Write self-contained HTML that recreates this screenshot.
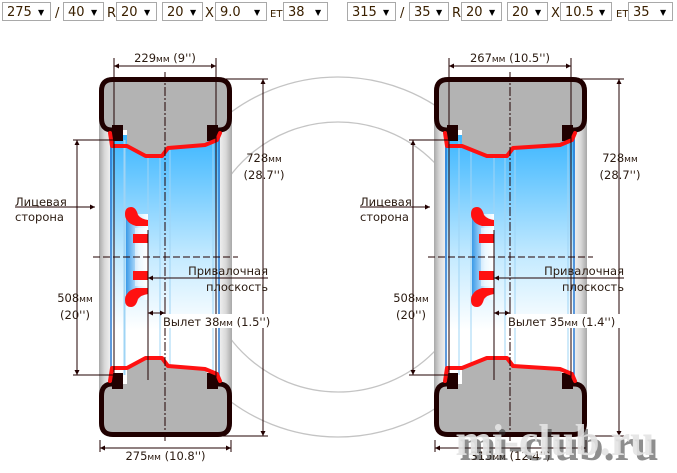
<!DOCTYPE html>
<html><head><meta charset="utf-8">
<style>
html,body{margin:0;padding:0;background:#fff;width:677px;height:473px;overflow:hidden}
svg{position:absolute;left:0;top:0}
text{font-family:"DejaVu Sans","Liberation Sans",sans-serif;fill:#2a1a10}
</style></head><body>
<svg id="s" width="677" height="473" viewBox="0 0 677 473" xmlns="http://www.w3.org/2000/svg">
<defs>
<linearGradient id="blue" x1="0" y1="0" x2="0" y2="1">
<stop offset="0" stop-color="#3cb6ff"/><stop offset="0.5" stop-color="#c4eaff"/><stop offset="0.8" stop-color="#fff"/><stop offset="1" stop-color="#fff"/>
</linearGradient>
<linearGradient id="sideL" x1="0" y1="0" x2="1" y2="0">
<stop offset="0" stop-color="#a8a8a8"/><stop offset="0.5" stop-color="#d8d8d8"/><stop offset="1" stop-color="#eee"/>
</linearGradient>
<linearGradient id="sideR" x1="0" y1="0" x2="1" y2="0">
<stop offset="0" stop-color="#eee"/><stop offset="0.5" stop-color="#d8d8d8"/><stop offset="1" stop-color="#a8a8a8"/>
</linearGradient>
<linearGradient id="hub" x1="0" y1="0" x2="1" y2="0">
<stop offset="0" stop-color="#3a9ae8"/><stop offset="0.6" stop-color="#d8f0ff"/><stop offset="1" stop-color="#fff"/>
</linearGradient>
</defs>
<g fill="none" stroke="#c4c4c4" stroke-width="1.3">
<circle cx="338" cy="257" r="180"/><circle cx="338" cy="257" r="135"/>
</g>
<g id="g"></g>
</svg>
<script>
var out='';
function sel(x,w,t){
 out+='<rect x="'+(x+0.5)+'" y="2.5" width="'+w+'" height="18" fill="#fff" stroke="#a9a9a9"/>';
 out+='<text x="'+(x+5)+'" y="16" font-size="13" style="fill:#3a2000">'+t+'</text>';
 out+='<text x="'+(x+w-12)+'" y="15" font-size="8" style="fill:#000">▼</text>';
}
function lab(x,t){out+='<text x="'+x+'" y="17" font-size="13" style="fill:#3a2000">'+t+'</text>';}
function T(x,y,t,anchor,sz){out+='<text x="'+x+'" y="'+y+'" font-size="'+(sz||11.5)+'" text-anchor="'+(anchor||'start')+'">'+t+'</text>';}
function mm(n,inch){return n+'<tspan font-size="9">мм</tspan> ('+inch+'\'\')';}
function L(x1,y1,x2,y2,c,w,d){out+='<line x1="'+x1+'" y1="'+y1+'" x2="'+x2+'" y2="'+y2+'" stroke="'+(c||'#200')+'" stroke-width="'+(w||1)+'"'+(d?' stroke-dasharray="'+d+'"':'')+'/>';}
function arrH(x1,x2,y){L(x1,y,x2,y);out+='<path d="M'+x1+' '+y+'l5 -2.5v5z M'+x2+' '+y+'l-5 -2.5v5z" fill="#200"/>';}
function arrV(x,y1,y2){L(x,y1,x,y2);out+='<path d="M'+x+' '+y1+'l-2.5 5h5z M'+x+' '+y2+'l-2.5 -5h5z" fill="#200"/>';}
function panel(p){
 var tL=p.tL,tR=p.tR,rL=p.rL,rR=p.rR,cx=p.cx,f=p.face,w=rR-rL;
 out+='<rect x="'+tL+'" y="110" width="'+(rL-4-tL)+'" height="294" fill="url(#sideL)"/>';
 out+='<rect x="'+(rR+4)+'" y="110" width="'+(tR-rR-4)+'" height="294" fill="url(#sideR)"/>';
 out+='<rect x="'+(rL-4)+'" y="135" width="'+(w+8)+'" height="244" fill="url(#blue)"/>';
 L(rL-3,135,rL-3,379,'#2a78d0',1.5);L(rR+3,135,rR+3,379,'#2a78d0',1.5);
 [rL+10,p.hubL,f,cx-5,cx+5,rR-3].forEach(function(x){L(x,140,x,375,'#9fd4f5',1);});
 // hub
 var h=p.hubL;
 out+='<rect x="'+(h+1)+'" y="214" width="'+(f-h-1)+'" height="86" fill="url(#hub)"/>';
 out+='<rect x="'+(h+10)+'" y="228" width="'+(f-h-10)+'" height="58" fill="#fff" opacity="0.5"/>';
 function hubHalf(top){
  var s=top?1:-1,c=257;
  function Y(d){return c-s*d;}
  out+='<path d="M'+h+' '+Y(43)+' Q'+h+' '+Y(50)+' '+(h+6)+' '+Y(50)+' Q'+(h+11)+' '+Y(50)+' '+(h+13)+' '+Y(42)+' Q'+(h+16)+' '+Y(38)+' '+(f)+' '+Y(37)+' V'+Y(31)+' H'+(h+11)+' Q'+(h+4)+' '+Y(33)+' '+(h+2)+' '+Y(37)+' Q'+h+' '+Y(39)+' '+h+' '+Y(43)+'z" fill="#f11"/>';
  out+='<rect x="'+(h+8)+'" y="'+Math.min(Y(23),Y(14))+'" width="'+(f-h-8)+'" height="9" fill="#f11"/>';
 }
 hubHalf(true);hubHalf(false);
 function tire(top){
  var s=top?1:-1,y0=top?77:437;
  function Y(d){return y0+s*d;}
  var d='M'+tL+' '+Y(53)+' V'+Y(14)+' Q'+tL+' '+y0+' '+(tL+14)+' '+y0+' H'+(tR-14)+' Q'+tR+' '+y0+' '+tR+' '+Y(14)+' V'+Y(41)+' Q'+tR+' '+Y(53)+' '+(tR-12)+' '+Y(53)+' H'+(rR-8)+' V'+Y(62)+' L'+(rR-11)+' '+Y(68)+' L'+(cx+3)+' '+Y(71)+' L'+(cx-3)+' '+Y(79)+' L'+(rL+0.31*w)+' '+Y(79)+' L'+(rL+13)+' '+Y(69)+' V'+Y(53)+' H'+(tL+12)+' Q'+tL+' '+Y(53)+' '+tL+' '+Y(41)+'z';
  out+='<path d="'+d+'" fill="#b3b3b3"/>';
  out+='<path d="M'+(rL-1)+' '+Y(53)+' H'+(tL+13)+' Q'+(tL+2.5)+' '+Y(53)+' '+(tL+2.5)+' '+Y(41)+' V'+Y(14)+' Q'+(tL+2.5)+' '+Y(2.5)+' '+(tL+14)+' '+Y(2.5)+' H'+(tR-14)+' Q'+(tR-2.5)+' '+Y(2.5)+' '+(tR-2.5)+' '+Y(14)+' V'+Y(41)+' Q'+(tR-2.5)+' '+Y(53)+' '+(tR-13)+' '+Y(53)+' H'+(rR-8)+'" fill="none" stroke="#200000" stroke-width="5"/>';
  out+='<rect x="'+(rL-2)+'" y="'+Math.min(Y(48),Y(64))+'" width="11" height="16" fill="#200000"/>';
  out+='<rect x="'+(rR-9)+'" y="'+Math.min(Y(48),Y(64))+'" width="11" height="16" fill="#200000"/>';
  var pts=[[rL-4,56],[rL-2,69],[rL+13,69],[rL+0.31*w,79],[cx-3,79],[cx+3,71],[rR-11,68],[rR+1,63],[rR+4,56]];
  out+='<polyline points="'+pts.map(function(q){return q[0]+','+Y(q[1]);}).join(' ')+'" fill="none" stroke="#f11" stroke-width="4" stroke-linejoin="round" stroke-linecap="round"/>';
 }
 tire(true);tire(false);
 L(cx,72,cx,442,'#200',1,'9 2 2 2');
 L(tL-6,257,tR+6,257,'#200',1,'7 3');
 L(rL,58,rL,380,'#200',1);L(rR,58,rR,380,'#200',1);
 arrH(rL,rR,66);T(cx,62,mm(p.rw,p.rwi),'middle');
 L(tL+1,440,tL+1,452);L(tR-1,440,tR-1,452);arrH(tL+1,tR-1,448);T((tL+tR)/2,460,mm(p.tw,p.twi),'middle');
 L(tR-12,79,p.hx+5,79);L(tR-12,436,p.hx+5,436);arrV(p.hx,79,436);
 T(p.hx+1,162,'728<tspan font-size="9">мм</tspan>','middle');T(p.hx+1,179,'(28.7\'\')','middle');
 L(p.dx-4,140,rL+6,140);L(p.dx-4,375,rL+6,375);arrV(p.dx,140,375);
 T(p.dx-2,302,'508<tspan font-size="9">мм</tspan>','middle');T(p.dx-2,319,'(20\'\')','middle');
 T(p.lx,206,'Лицевая','start');T(p.lx,221,'сторона','start');
 L(p.lx,207,tL-4,207);out+='<path d="M'+(tL-4)+' 207 l-5 -2.5v5z" fill="#200"/>';
 L(f,230,f,380,'#200',1);
 L(f,278,p.hx+5,278);out+='<path d="M'+f+' 278 l5 -2.5v5z" fill="#200"/>';
 T(p.hx+5,275,'Привалочная','end');T(p.hx+5,291,'плоскость','end');
 L(cx,300,cx,330);arrH(f,cx,313);
 out+='<rect x="'+(cx-3)+'" y="314" width="'+(p.hx-cx+12)+'" height="14" fill="#fff"/>';
 T(cx-2,326,'Вылет '+p.et+'<tspan font-size="9">мм</tspan> ('+p.eti+'\'\')','start');
}
sel(2,48,'275');lab(55,'/');sel(63,40,'40');lab(107,'R');sel(116,40,'20');sel(162,40,'20');lab(205,'X');sel(215,51,'9.0');lab(270,'<tspan font-size="10">ET</tspan>');sel(283,44,'38');
sel(347,48,'315');lab(400,'/');sel(409,39,'35');lab(452,'R');sel(461,40,'20');sel(507,40,'20');lab(551,'X');sel(560,51,'10.5');lab(616,'<tspan font-size="10">ET</tspan>');sel(628,44,'35');
panel({tL:99,tR:232,rL:114,rR:216,cx:165,face:148,hubL:125,rw:229,rwi:'9',tw:275,twi:'10.8',hx:263,dx:77,lx:15,et:38,eti:'1.5'});
panel({tL:434,tR:587,rL:449,rR:571,cx:510,face:494,hubL:471,rw:267,rwi:'10.5',tw:315,twi:'12.4',hx:619,dx:413,lx:360,et:35,eti:'1.4'});
out+='<text x="559" y="460" text-anchor="middle" font-size="44" font-weight="bold" style="font-family:\'Liberation Serif\',serif;fill:#333;opacity:0.55">mi-club.ru</text>';
out+='<text x="555" y="455" text-anchor="middle" font-size="44" font-weight="bold" style="font-family:\'Liberation Serif\',serif;fill:#e4e4e4;opacity:0.9">mi-club.ru</text>';
document.getElementById('g').innerHTML=out;
</script>
</body></html>
